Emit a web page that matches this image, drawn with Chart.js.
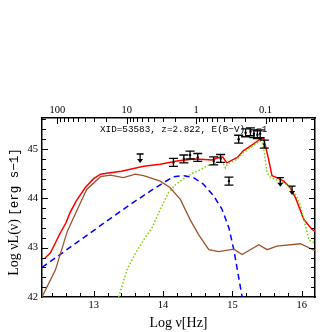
<!DOCTYPE html>
<html>
<head>
<meta charset="utf-8">
<script src="https://cdn.jsdelivr.net/npm/chart.js@4.4.1/dist/chart.umd.min.js"></script>
<style>
  html, body { margin: 0; padding: 0; background: #fff; }
  #sed { display: block; }
</style>
</head>
<body>
<canvas id="sed" width="332" height="332"></canvas>
<script>
// x is log nu [Hz], y is log nuL(nu) [erg s-1]
const totalNu = [12.30, 12.375, 12.45, 12.52, 12.60, 12.66, 12.75, 12.88, 13.0, 13.10, 13.24, 13.40, 13.53, 13.72, 13.96, 14.20, 14.44, 14.60, 14.70, 14.83, 14.86, 14.92, 15.07, 15.16, 15.30, 15.40, 15.45, 15.47, 15.52, 15.57, 15.64, 15.74, 15.83, 15.91, 16.03, 16.10, 16.15, 16.19];
const totalL = [42.79, 42.89, 43.10, 43.30, 43.50, 43.71, 43.95, 44.22, 44.40, 44.49, 44.52, 44.55, 44.59, 44.65, 44.69, 44.76, 44.80, 44.79, 44.78, 44.84, 44.84, 44.72, 44.83, 44.97, 45.10, 45.20, 45.22, 45.10, 44.80, 44.46, 44.42, 44.35, 44.22, 44.01, 43.57, 43.45, 43.37, 43.33];

const hostNu = [12.256, 12.45, 12.62, 12.81, 12.90, 13.10, 13.24, 13.43, 13.60, 13.72, 13.96, 14.10, 14.25, 14.39, 14.51, 14.66, 14.80, 15.02, 15.14, 15.38, 15.50, 15.64, 15.98, 16.19];
const hostL = [42.0, 42.55, 43.33, 43.91, 44.18, 44.44, 44.47, 44.42, 44.49, 44.46, 44.35, 44.22, 43.98, 43.57, 43.27, 42.96, 42.92, 42.97, 42.86, 43.06, 42.96, 43.03, 43.08, 42.94];

const torusNu = [12.256, 13.24, 13.53, 13.82, 14.01, 14.15, 14.30, 14.44, 14.58, 14.73, 14.85, 14.95, 15.02, 15.14];
const torusL = [42.60, 43.59, 43.88, 44.15, 44.32, 44.44, 44.46, 44.42, 44.29, 44.05, 43.78, 43.40, 42.96, 42.0];

const agnNu = [13.36, 13.48, 13.60, 13.72, 13.84, 13.96, 14.08, 14.18, 14.25, 14.35, 14.44, 14.54, 14.63, 14.73, 14.83, 14.87, 14.90, 14.93, 14.97, 15.02, 15.07, 15.16, 15.23, 15.30, 15.35, 15.40, 15.43, 15.46, 15.48, 15.50, 15.55, 15.62, 15.69, 15.76, 15.83, 15.90, 15.97, 16.03, 16.08, 16.10, 16.19];
const agnL = [42.0, 42.55, 42.88, 43.16, 43.40, 43.78, 44.12, 44.28, 44.35, 44.45, 44.52, 44.58, 44.66, 44.70, 44.76, 44.70, 44.62, 44.70, 44.73, 44.76, 44.80, 44.93, 45.00, 45.07, 45.12, 45.17, 45.12, 44.94, 44.70, 44.52, 44.42, 44.38, 44.35, 44.30, 44.22, 44.10, 43.90, 43.57, 43.30, 43.16, 43.09];

// photometry
const photNu = [14.15, 14.30, 14.39, 14.50, 14.73, 14.83, 14.95, 15.09, 15.19, 15.26, 15.31, 15.36, 15.40, 15.46];
const photL = [44.73, 44.80, 44.88, 44.83, 44.76, 44.81, 44.35, 45.20, 45.33, 45.35, 45.31, 45.29, 45.31, 45.10];
const photErr = [0.08, 0.08, 0.08, 0.08, 0.08, 0.08, 0.08, 0.08, 0.08, 0.08, 0.08, 0.08, 0.08, 0.08];
const limNu = [13.67, 15.69, 15.86];
const limL = [44.90, 44.42, 44.25];

const xTicks = [13, 14, 15, 16];
const yTicks = [42, 43, 44, 45];
const lambdaLabels = [100, 10, 1, 0.1]; // micron, top axis

const XMIN = 12.256, XMAX = 16.19, YMIN = 42, YMAX = 45.63;
const C_MICRON = 2.998e14;

function pairs(xs, ys) {
  return xs.map((x, i) => ({ x: x, y: ys[i] }));
}
function lamToNu(l) {
  return Math.log10(C_MICRON / l);
}

const tickFont = { family: "'Liberation Serif', serif", size: 10.5 };

// error bars, upper limits, ticks, y title and the label inside the frame
const sedExtras = {
  id: 'sedExtras',
  afterDraw(chart) {
    const ctx = chart.ctx;
    const xs = chart.scales.x, ys = chart.scales.y;
    const area = chart.chartArea;
    ctx.save();
    ctx.strokeStyle = '#000';
    ctx.fillStyle = '#000';

    photNu.forEach((nu, i) => {
      const px = xs.getPixelForValue(nu);
      const y1 = ys.getPixelForValue(photL[i] + photErr[i]);
      const y2 = ys.getPixelForValue(photL[i] - photErr[i]);
      ctx.lineWidth = 1.3;
      ctx.beginPath();
      ctx.moveTo(px, y1); ctx.lineTo(px, y2);
      ctx.moveTo(px - 4.5, y1); ctx.lineTo(px + 4.5, y1);
      ctx.moveTo(px - 4.5, y2); ctx.lineTo(px + 4.5, y2);
      ctx.stroke();
    });

    limNu.forEach((nu, i) => {
      const px = xs.getPixelForValue(nu);
      const py = ys.getPixelForValue(limL[i]);
      ctx.lineWidth = 1.3;
      ctx.beginPath();
      ctx.moveTo(px - 3.5, py); ctx.lineTo(px + 3.5, py);
      ctx.moveTo(px, py); ctx.lineTo(px, py + 7);
      ctx.stroke();
      ctx.beginPath();
      ctx.moveTo(px - 3, py + 5); ctx.lineTo(px + 3, py + 5); ctx.lineTo(px, py + 9);
      ctx.closePath();
      ctx.fill();
    });

    // inward tick marks as small filled rects
    for (let k = 1; k <= 19; k++) {
      const px = Math.round(xs.getPixelForValue(12.2 + k * 0.2));
      const len = (k % 5 === 4) ? 6 : 4;
      ctx.fillRect(px, area.bottom - len, 1, len);
    }
    for (let k = 1; k <= 18; k++) {
      const py = Math.round(ys.getPixelForValue(42 + k * 0.2));
      const len = (k % 5 === 0) ? 6 : 4;
      ctx.fillRect(area.left, py, len, 1);
      ctx.fillRect(area.right - len, py, len, 1);
    }
    [100, 10, 1, 0.1, 0.01].forEach(dec => {
      for (let m = 1; m < 10; m++) {
        const nu = lamToNu(dec * m);
        if (nu <= XMIN || nu >= XMAX) continue;
        const px = Math.round(xs.getPixelForValue(nu));
        ctx.fillRect(px, area.top, 1, m === 1 ? 6 : 4);
      }
    });

    ctx.font = "9.3px 'Liberation Mono', monospace";
    ctx.textBaseline = 'middle';
    ctx.textAlign = 'left';
    ctx.fillText('XID=53583, z=2.822, E(B\u2212V)  =1', 100, 130);

    // y title: serif part and typewriter part
    const partA = 'Log \u03bdL(\u03bd) ';
    const partB = '[erg s\u22121]';
    const fA = "14px 'Liberation Serif', serif";
    const fB = "12.5px 'Liberation Mono', monospace";
    ctx.font = fA;
    const wA = ctx.measureText(partA).width;
    ctx.font = fB;
    const wB = ctx.measureText(partB).width;
    ctx.translate(18, 212);
    ctx.rotate(-Math.PI / 2);
    ctx.textBaseline = 'alphabetic';
    ctx.font = fA;
    ctx.fillText(partA, -(wA + wB) / 2, 0);
    ctx.font = fB;
    ctx.fillText(partB, -(wA + wB) / 2 + wA, 0);
    ctx.restore();
  }
};

const config = {
  type: 'line',
  data: {
    datasets: [
      { label: 'host', data: pairs(hostNu, hostL), borderColor: '#a0522d', borderWidth: 1.3, pointRadius: 0, tension: 0 },
      { label: 'torus', data: pairs(torusNu, torusL), borderColor: '#0000ff', borderWidth: 1.5, borderDash: [6, 4], pointRadius: 0, tension: 0 },
      { label: 'agn', data: pairs(agnNu, agnL), borderColor: '#7fd000', borderWidth: 1.5, borderDash: [1.5, 2], pointRadius: 0, tension: 0 },
      { label: 'total', data: pairs(totalNu, totalL), borderColor: '#ff0000', borderWidth: 1.5, pointRadius: 0, tension: 0 },
      { label: 'data', data: pairs(photNu, photL), showLine: false, pointRadius: 1.2, backgroundColor: '#000', borderColor: '#000', borderWidth: 0 }
    ]
  },
  options: {
    responsive: false,
    animation: false,
    layout: { padding: 0 },
    plugins: { legend: { display: false }, tooltip: { enabled: false } },
    scales: {
      x: {
        type: 'linear', position: 'bottom', min: XMIN, max: XMAX,
        grid: { display: false, drawTicks: false },
        border: { display: true, color: '#000', width: 1.5 },
        afterBuildTicks: s => { s.ticks = xTicks.map(v => ({ value: v })); },
        ticks: { color: '#000', font: tickFont, padding: 2, maxRotation: 0 },
        title: { display: true, text: 'Log \u03bd[Hz]', color: '#000', font: { family: "'Liberation Serif', serif", size: 14 }, padding: { top: 1, bottom: 0 } },
        afterFit: s => { s.height = 35; }
      },
      x2: {
        type: 'linear', position: 'top', min: XMIN, max: XMAX,
        grid: { display: false, drawTicks: false },
        border: { display: true, color: '#000', width: 1.5 },
        afterBuildTicks: s => { s.ticks = lambdaLabels.map(l => ({ value: lamToNu(l) })); },
        ticks: {
          color: '#000', font: tickFont, padding: 1, maxRotation: 0,
          callback: (v, i) => String(lambdaLabels[i])
        },
        afterFit: s => { s.height = 118; }
      },
      y: {
        type: 'linear', position: 'left', min: YMIN, max: YMAX,
        grid: { display: false, drawTicks: false },
        border: { display: true, color: '#000', width: 1.5 },
        afterBuildTicks: s => { s.ticks = yTicks.map(v => ({ value: v })); },
        ticks: { color: '#000', font: tickFont, padding: 4 },
        afterFit: s => { s.width = 42; }
      },
      y2: {
        type: 'linear', position: 'right', min: YMIN, max: YMAX,
        grid: { display: false, drawTicks: false },
        border: { display: true, color: '#000', width: 1.5 },
        ticks: { display: false },
        afterFit: s => { s.width = 17; }
      }
    }
  },
  plugins: [sedExtras]
};

window.addEventListener('load', () => {
  const ctx = document.getElementById('sed').getContext('2d');
  window.sedChart = new Chart(ctx, config);
});
</script>
</body>
</html>
